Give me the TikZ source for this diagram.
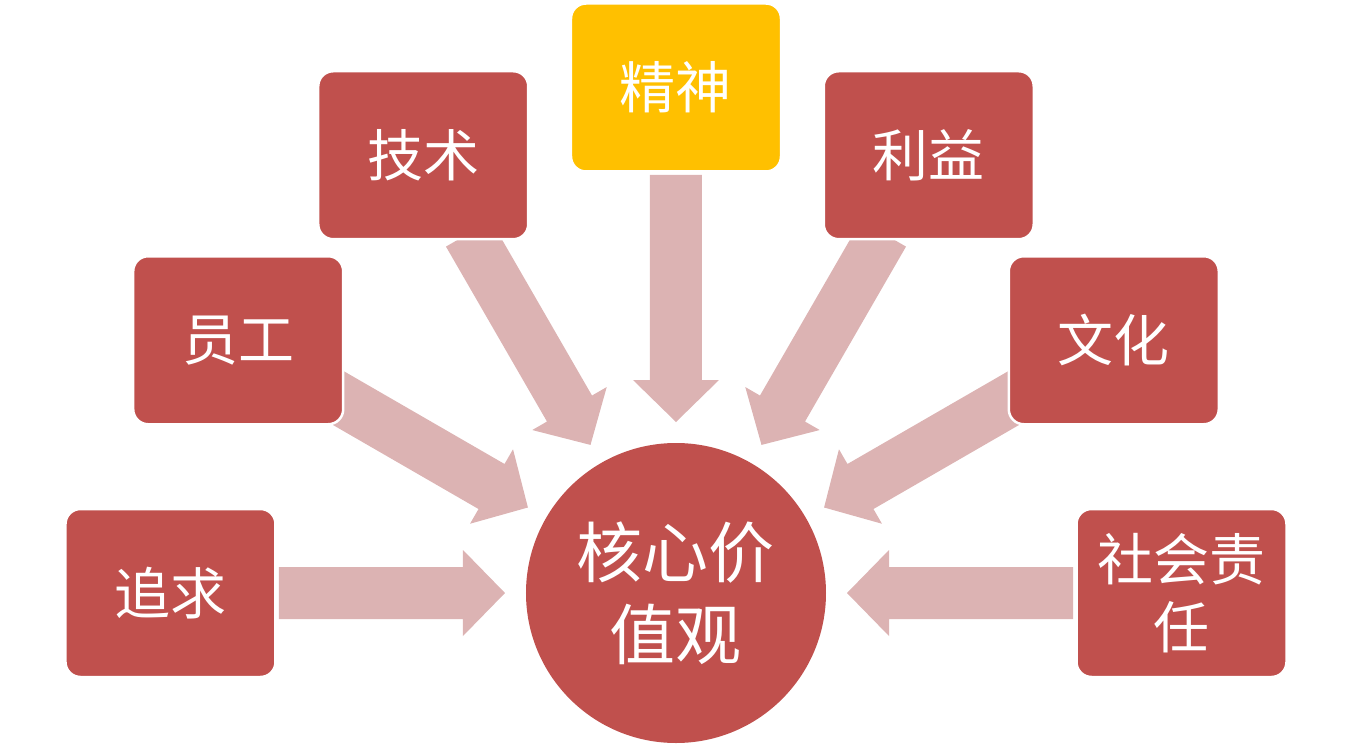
\documentclass[tikz,border=0pt]{standalone}
\usepackage{fontspec}
\newfontfamily\cjk{Noto Sans CJK SC}
\definecolor{boxred}{HTML}{C0504D}
\definecolor{arrowpink}{HTML}{DCB3B3}
\definecolor{gold}{HTML}{FFC000}
\pgfdeclarelayer{background}
\pgfsetlayers{background,main}
\begin{document}
\begin{tikzpicture}[x=1pt,y=1pt,
  itembox/.style={rectangle, rounded corners=15pt, minimum width=210pt, minimum height=168pt,
    fill=boxred, draw=white, line width=2.5pt, text=white, align=center, inner sep=0pt,
    font=\cjk\fontsize{56}{68}\selectfont},
  hub/.style={circle, minimum size=300pt, inner sep=0pt, fill=boxred, text=white, align=center,
    font=\cjk\fontsize{66}{82}\selectfont},
  blockarrow/.style={fill=arrowpink}]
\useasboundingbox (-676,-155) rectangle (676,593);
\node[hub] (c) at (0,0) {核心价\\值观};
\node[itembox] (zq) at (180:505.5) {追求};
\node[itembox] (yg) at (150:505.5) {员工};
\node[itembox] (js) at (120:505.5) {技术};
\node[itembox, fill=gold] (jsh) at (90:505.5) {精神};
\node[itembox] (ly) at (60:505.5) {利益};
\node[itembox] (wh) at (30:505.5) {文化};
\node[itembox] (sh) at (0:505.5) {社会责\\任};
\begin{pgfonlayer}{background}
\foreach \ang/\tail in {180/397, 150/415, 120/415, 90/418, 60/415, 30/415, 0/397}{
  \begin{scope}[shift={(c.center)}, rotate=\ang]
    \fill[blockarrow] (\tail,26) -- (213,26) -- (213,43) -- (171,0) -- (213,-43) -- (213,-26) -- (\tail,-26) -- cycle;
  \end{scope}
}
\end{pgfonlayer}
\end{tikzpicture}
\end{document}
